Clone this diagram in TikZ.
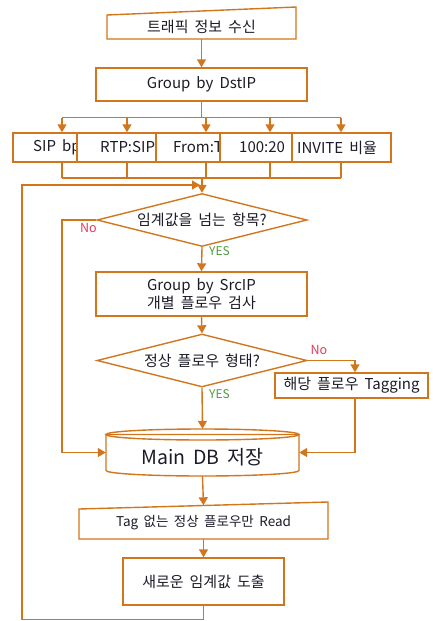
\documentclass[tikz,border=0pt]{standalone}
\usepackage{fontspec}
\setmainfont{Noto Sans CJK KR}[WordSpace=1.8]
\usetikzlibrary{arrows.meta,shapes.geometric}
\definecolor{ln}{HTML}{D2761E}
\definecolor{tx}{HTML}{1C1C28}
\definecolor{nored}{HTML}{E6375A}
\definecolor{yesgreen}{HTML}{4E9A3C}
\begin{document}
\begin{tikzpicture}[x=1pt,y=-1pt,
  line/.style={draw=ln, line width=1.4pt},
  arr/.style={line, -{Triangle[length=8pt,width=9pt]}},
  txt/.style={text=tx, inner sep=0pt, font=\fontsize{15}{18}\selectfont},
  box/.style={txt, draw=ln, line width=1.4pt, fill=white},
  dia/.style={txt, draw=ln, line width=1.4pt, fill=white, diamond, aspect=4, minimum width=210pt, minimum height=53pt},
  nolab/.style={text=nored, inner sep=0pt, font=\fontsize{12.5}{14}\selectfont},
  yeslab/.style={text=yesgreen, inner sep=0pt, font=\fontsize{12}{14}\selectfont, anchor=west}]
\useasboundingbox (0,0) rectangle (432,621);

% top manual-input box
\draw[line, fill=white] (107,15) -- (296,7) -- (296,39) -- (107,39) -- cycle;
\node[txt, minimum width=189pt, minimum height=24pt] (recv) at (201.5,27) {트래픽 정보 수신};

\node[box, minimum width=211pt, minimum height=33pt] (grp) at (201.5,84.5) {Group by DstIP};
\draw[arr] (recv.south) -- (grp.north);

% split line
\coordinate (split) at (201.5,117.5);
\coordinate (a1) at (62,117.5);
\coordinate (a2) at (127,117.5);
\coordinate (a3) at (206,117.5);
\coordinate (a4) at (270,117.5);
\coordinate (a5) at (341,117.5);
\coordinate (merge) at (202,178);
\draw[line] (grp.south) -- (split);
\draw[line] (a1) -- (a5);

% row of boxes, each covering the overflow of the previous one
\node[box, minimum width=64pt, minimum height=29pt] (row1) at (45,147.5) {};
\node[txt, anchor=west] (t1) at (33,147.5) {SIP bp};
\node[box, minimum width=79pt, minimum height=29pt] (row2) at (116.5,147.5) {};
\node[txt, anchor=west] (t2) at (100,147.5) {RTP:SIP};
\node[box, minimum width=64pt, minimum height=29pt] (row3) at (188,147.5) {};
\node[txt, anchor=west] (t3) at (173,147.5) {From:T};
\node[box, minimum width=72pt, minimum height=29pt] (row4) at (256,147.5) {};
\node[txt, anchor=west] (t4) at (239,147.5) {100:20};
\node[box, minimum width=99pt, minimum height=29pt] (row5) at (341.5,147.5) {};
\node[txt, anchor=west] (t5) at (297,147.5) {INVITE 비율};

\foreach \i in {1,...,5}{
  \draw[arr] (a\i) -- (a\i |- row\i.north);
  \draw[line] (a\i |- row\i.south) -- (a\i |- merge);
}
\draw[line] (a1 |- merge) -- (a5 |- merge);

\node[dia] (d1) at (202,220) {임계값을 넘는 항목?};
\draw[arr] (merge) -- (d1.north);

\node[box, minimum width=211pt, minimum height=44pt, align=center] (src) at (201.5,294) {Group by SrcIP\\개별 플로우 검사};
\draw[arr] (d1.south) -- (src.north);
\node[yeslab] (y1) at (209,251) {YES};

\node[dia] (d2) at (202,360.5) {정상 플로우 형태?};
\draw[arr] (src.south) -- (d2.north);
\node[yeslab] (y2) at (209,394) {YES};

\node[box, minimum width=153pt, minimum height=25pt] (tagb) at (351.5,385.5) {해당 플로우 Tagging};

% database cylinder
\draw[line, fill=white] (106,434.5) -- (106,470.5) arc[start angle=180, end angle=360, x radius=96.5pt, y radius=5.5pt] -- (299,434.5) -- cycle;
\draw[line] (202.5,434.5) ellipse [x radius=96.5pt, y radius=5.5pt];
\node[inner sep=0pt, minimum width=193pt, minimum height=47pt] (db) at (202.5,452.5) {};
\node[txt, font=\fontsize{19.5}{22}\selectfont] (dbt) at (202.5,457) {Main DB 저장};
\draw[arr] (d2.south) -- (db.north);

% No branches
\coordinate (n1) at (62,452.5);
\draw[arr] (d1.west) -| (n1) -- (db.west);
\node[nolab] (no1) at (88.5,228) {No};
\coordinate (n2) at (355,360.5);
\draw[arr] (d2.east) -- (n2) -- (n2 |- tagb.north);
\draw[arr] (n2 |- tagb.south) |- (db.east);
\node[nolab] (no2) at (319,350) {No};

% read box (manual input)
\draw[line, fill=white] (79,509) -- (328,502) -- (328,539) -- (79,539) -- cycle;
\node[txt, font=\fontsize{13.5}{16}\selectfont, minimum width=249pt, minimum height=33.5pt] (read) at (203.5,522.25) {Tag 없는 정상 플로우만 Read};
\draw[arr] (db.south) -- (read.north);

\node[box, minimum width=161pt, minimum height=47pt] (new) at (203.5,581.5) {새로운 임계값 도출};
\draw[arr] (read.south) -- (new.north);

% loop back
\coordinate (lp) at (22,185);
\coordinate (lpend) at (200,185);
\draw[arr] (new.south) -- (new.south |- 0,619.5) -| (lp) -- (lpend);
\end{tikzpicture}
\end{document}
